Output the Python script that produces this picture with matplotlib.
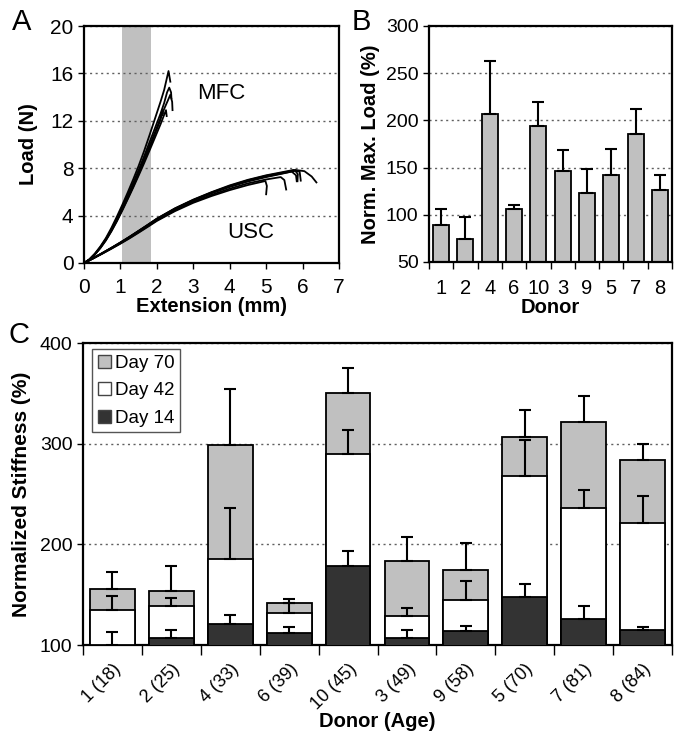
import matplotlib
matplotlib.use('Agg')
import matplotlib.pyplot as plt
from matplotlib.patches import Patch
import numpy as np

plt.rcParams['font.family'] = ['Liberation Sans', 'DejaVu Sans']

# ---- panel A: load-extension curves ----
mfc_x = [
    [0, 0.15, 0.3, 0.45, 0.6, 0.75, 0.9, 1.05, 1.2, 1.35, 1.5, 1.65, 1.8, 1.95, 2.1, 2.2, 2.32, 2.37],
    [0, 0.15, 0.3, 0.45, 0.6, 0.75, 0.9, 1.05, 1.2, 1.35, 1.5, 1.65, 1.8, 1.95, 2.1, 2.2, 2.28, 2.34, 2.39, 2.40],
    [0, 0.15, 0.3, 0.45, 0.6, 0.75, 0.9, 1.05, 1.2, 1.35, 1.5, 1.65, 1.8, 1.95, 2.1, 2.2, 2.3, 2.37, 2.42, 2.43],
    [0, 0.15, 0.3, 0.45, 0.6, 0.75, 0.9, 1.05, 1.2, 1.35, 1.5, 1.65, 1.8, 1.95, 2.1, 2.15, 2.17, 2.12],
    [0, 0.15, 0.3, 0.45, 0.6, 0.75, 0.9, 1.05, 1.2, 1.35, 1.5, 1.65, 1.8, 1.95, 2.1, 2.2, 2.25, 2.27],
]
mfc_y = [
    [0, 0.32, 0.8, 1.4, 2.1, 2.95, 3.9, 4.9, 5.95, 7.05, 8.2, 9.45, 10.8, 12.2, 13.6, 14.6, 16.2, 15.3],
    [0, 0.3, 0.76, 1.34, 2.02, 2.82, 3.72, 4.7, 5.7, 6.75, 7.85, 9.0, 10.2, 11.4, 12.6, 13.5, 14.4, 14.8, 14.4, 13.9],
    [0, 0.3, 0.75, 1.32, 1.98, 2.76, 3.64, 4.58, 5.56, 6.58, 7.65, 8.76, 9.9, 11.05, 12.2, 13.0, 13.7, 14.2, 13.6, 12.9],
    [0, 0.29, 0.73, 1.28, 1.93, 2.7, 3.56, 4.48, 5.45, 6.45, 7.5, 8.6, 9.7, 10.9, 12.1, 12.9, 12.6, 12.4],
    [0, 0.28, 0.72, 1.26, 1.9, 2.66, 3.5, 4.42, 5.38, 6.36, 7.38, 8.42, 9.5, 10.6, 11.7, 12.5, 12.9, 12.4],
]
usc_x = [
    [0, 0.25, 0.5, 0.75, 1, 1.25, 1.5, 1.75, 2, 2.5, 3, 3.5, 4, 4.5, 4.98, 5.02, 5.0],
    [0, 0.25, 0.5, 0.75, 1, 1.25, 1.5, 1.75, 2, 2.5, 3, 3.5, 4, 4.5, 5, 5.4, 5.5, 5.55],
    [0, 0.25, 0.5, 0.75, 1, 1.25, 1.5, 1.75, 2, 2.5, 3, 3.5, 4, 4.5, 5, 5.5, 5.8, 5.87, 5.86],
    [0, 0.25, 0.5, 0.75, 1, 1.25, 1.5, 1.75, 2, 2.5, 3, 3.5, 4, 4.5, 5, 5.5, 5.75, 5.92, 5.95],
    [0, 0.25, 0.5, 0.75, 1, 1.25, 1.5, 1.75, 2, 2.5, 3, 3.5, 4, 4.5, 5, 5.5, 5.8, 6.05, 6.25, 6.38],
    [0, 0.25, 0.5, 0.75, 1, 1.25, 1.5, 1.75, 2, 2.5, 3, 3.5, 4, 4.5, 5, 5.5, 5.7, 5.82, 5.84],
]
usc_y = [
    [0, 0.38, 0.78, 1.2, 1.63, 2.08, 2.56, 3.05, 3.55, 4.38, 5.08, 5.65, 6.15, 6.58, 6.92, 6.5, 5.8],
    [0, 0.39, 0.8, 1.22, 1.66, 2.12, 2.6, 3.1, 3.6, 4.45, 5.16, 5.75, 6.27, 6.72, 7.05, 7.25, 7.0, 6.2],
    [0, 0.4, 0.82, 1.25, 1.7, 2.18, 2.68, 3.18, 3.7, 4.55, 5.27, 5.88, 6.42, 6.88, 7.25, 7.58, 7.78, 7.5, 6.9],
    [0, 0.41, 0.84, 1.28, 1.74, 2.22, 2.72, 3.23, 3.75, 4.62, 5.35, 5.98, 6.55, 7.02, 7.4, 7.7, 7.85, 7.7, 6.95],
    [0, 0.4, 0.83, 1.27, 1.72, 2.2, 2.7, 3.2, 3.72, 4.6, 5.32, 5.95, 6.5, 6.98, 7.36, 7.65, 7.85, 7.75, 7.3, 6.8],
    [0, 0.4, 0.82, 1.26, 1.71, 2.19, 2.69, 3.19, 3.71, 4.57, 5.3, 5.92, 6.46, 6.93, 7.3, 7.6, 7.72, 7.4, 6.9],
]
shade_span = [1.03, 1.85]

# ---- panel B ----
donors_b = ['1', '2', '4', '6', '10', '3', '9', '5', '7', '8']
load_mean = [89, 74, 207, 106, 194, 146, 123, 142, 186, 126]
load_err = [17, 24, 56, 4, 25, 23, 25, 28, 26, 16]

# ---- panel C ----
donors_c = ['1 (18)', '2 (25)', '4 (33)', '6 (39)', '10 (45)',
            '3 (49)', '9 (58)', '5 (70)', '7 (81)', '8 (84)']
day70 = [156, 154, 299, 142, 350, 183, 175, 307, 322, 284]
day70_err = [17, 24, 55, 4, 25, 24, 26, 26, 25, 16]
day42 = [135, 139, 185, 132, 290, 129, 145, 268, 236, 221]
day42_err = [14, 8, 51, 10, 24, 8, 19, 36, 18, 27]
day14 = [100, 106.6, 121, 112, 178, 106.6, 114, 148, 126, 115]
day14_err = [13, 8, 9, 5.5, 15, 8, 5, 13, 13, 3]

GRAY = '#c0c0c0'
DARK = '#333333'
LAB_FS = 14.5

fig = plt.figure(figsize=(6.79, 7.40), dpi=100)
W, H = 679.0, 740.0


def box(l, t, r, b):
    return [l / W, 1 - b / H, (r - l) / W, (b - t) / H]


def style(ax, fs):
    for s in ax.spines.values():
        s.set_linewidth(1.6)
        s.set_color('black')
    ax.tick_params(direction='out', labelsize=fs, colors='black',
                   width=1.0, length=4)
    ax.yaxis.grid(True, linestyle=(0, (1.5, 2.5)), color='#606060', linewidth=1.0)
    ax.set_axisbelow(True)


# panel A
axA = fig.add_axes(box(84, 26, 339, 263))
style(axA, 15)
axA.axvspan(shade_span[0], shade_span[1], color=GRAY, lw=0, zorder=0.5)
for xs, ys in zip(mfc_x, mfc_y):
    axA.plot(xs, ys, color='black', lw=1.3)
for xs, ys in zip(usc_x, usc_y):
    axA.plot(xs, ys, color='black', lw=1.3)
axA.set_xlim(0, 7)
axA.set_ylim(0, 20)
axA.set_xticks(range(0, 8))
axA.set_yticks([0, 4, 8, 12, 16, 20])
axA.tick_params(axis='x', pad=7)
axA.text(3.78, 14.3, 'MFC', fontsize=16, ha='center', va='center')
axA.text(4.58, 2.6, 'USC', fontsize=16, ha='center', va='center')
axA.set_xlabel('Extension (mm)', fontsize=LAB_FS, fontweight='bold', labelpad=0)
axA.set_ylabel('Load (N)', fontsize=LAB_FS, fontweight='bold', labelpad=9)

# panel B
axB = fig.add_axes(box(429, 26, 672, 262))
style(axB, 14)
xb = np.arange(len(donors_b))
axB.bar(xb, load_mean, width=0.66, color=GRAY, edgecolor='black', lw=1.3,
        yerr=[np.zeros(len(load_err)), load_err], capsize=4,
        error_kw=dict(elinewidth=1.5, capthick=1.5, ecolor='black'))
axB.set_xlim(-0.5, 9.5)
axB.set_ylim(50, 300)
axB.set_yticks(range(50, 301, 50))
axB.set_xticks(xb)
axB.set_xticklabels(donors_b, fontsize=14.5)
axB.set_xticks(np.arange(-0.5, 10, 1), minor=True)
axB.tick_params(axis='x', which='major', length=0, pad=12)
axB.tick_params(axis='x', which='minor', length=5, width=1.0, direction='out')
axB.set_xlabel('Donor', fontsize=LAB_FS, fontweight='bold', labelpad=0)
axB.set_ylabel('Norm. Max. Load (%)', fontsize=LAB_FS, fontweight='bold', labelpad=4)

# panel C
axC = fig.add_axes(box(83, 343, 672, 645))
style(axC, 14)
xc = np.arange(len(donors_c))
ekw = dict(elinewidth=1.5, capthick=1.5, ecolor='black')
z = np.zeros(len(xc))
axC.bar(xc, day70, width=0.76, color=GRAY, edgecolor='black', lw=1.3,
        yerr=[z, day70_err], capsize=4, error_kw=ekw, zorder=2)
axC.bar(xc, day42, width=0.76, color='white', edgecolor='black', lw=1.3,
        yerr=[z, day42_err], capsize=4, error_kw=ekw, zorder=3)
axC.bar(xc, day14, width=0.76, color=DARK, edgecolor='black', lw=1.3,
        yerr=[z, day14_err], capsize=4, error_kw=ekw, zorder=4)
axC.set_xlim(-0.5, 9.5)
axC.set_ylim(100, 400)
axC.set_yticks([100, 200, 300, 400])
axC.set_xticks(xc)
axC.set_xticklabels(donors_c, rotation=45, ha='right', va='top',
                    rotation_mode='anchor', fontsize=13)
axC.set_xticks(np.arange(-0.5, 10, 1), minor=True)
axC.tick_params(axis='x', which='major', length=0, pad=11)
axC.tick_params(axis='x', which='minor', length=7, width=1.0, direction='out')
axC.set_xlabel('Donor (Age)', fontsize=LAB_FS, fontweight='bold')
axC.xaxis.set_label_coords(0.5, (645 - 712) / 302.0)
axC.set_ylabel('Normalized Stiffness (%)', fontsize=15, fontweight='bold', labelpad=6)
handles = [Patch(facecolor=GRAY, edgecolor='#444444', lw=1.0, label='Day 70'),
           Patch(facecolor='white', edgecolor='#444444', lw=1.0, label='Day 42'),
           Patch(facecolor=DARK, edgecolor='#444444', lw=1.0, label='Day 14')]
leg = axC.legend(handles=handles, loc='upper left', bbox_to_anchor=(0.016, 0.98),
                 fontsize=13.5, frameon=True, fancybox=False, framealpha=1,
                 edgecolor='#555555', handlelength=0.7, handleheight=0.7,
                 handletextpad=0.2, labelspacing=0.55, borderpad=0.3,
                 borderaxespad=0)
leg.get_frame().set_linewidth(1.0)

fig.text(12 / W, 1 - 22 / H, 'A', fontsize=21, va='center', ha='left')
fig.text(352 / W, 1 - 22 / H, 'B', fontsize=21, va='center', ha='left')
fig.text(8 / W, 1 - 335 / H, 'C', fontsize=21, va='center', ha='left')

fig.savefig('out.png', dpi=100)
